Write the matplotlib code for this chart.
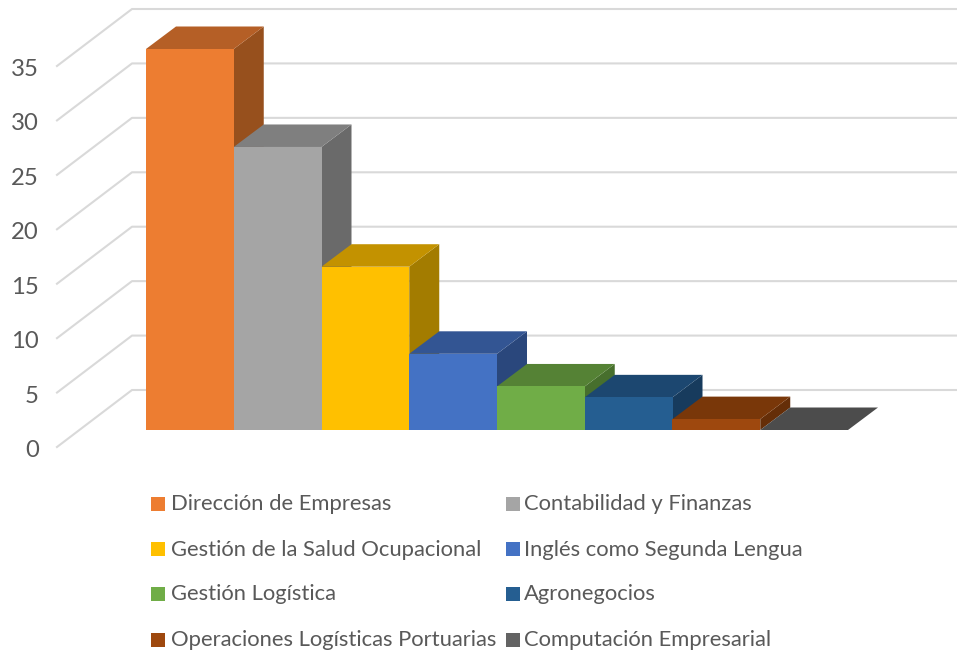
# -*- coding: utf-8 -*-
import matplotlib
matplotlib.use("Agg")

import matplotlib.pyplot as plt
from matplotlib.patches import Polygon, Rectangle
from matplotlib.transforms import ScaledTranslation

plt.rcParams["font.family"] = ["Lato", "DejaVu Sans"]

# datos
carreras = ["Dirección de Empresas", "Contabilidad y Finanzas",
            "Gestión de la Salud Ocupacional", "Inglés como Segunda Lengua",
            "Gestión Logística", "Agronegocios",
            "Operaciones Logísticas Portuarias", "Computación Empresarial"]
valores = [35, 26, 15, 7, 4, 3, 1, 0]
ticks_y = [0, 5, 10, 15, 20, 25, 30, 35]
col_frente = ["#ED7D31", "#A5A5A5", "#FFC000", "#4472C4",
              "#70AD47", "#255E91", "#9E480E", "#636363"]
col_arriba = ["#B55F26", "#7F7F7F", "#C39200", "#335593",
              "#558235", "#1C4770", "#793709", "#4C4C4C"]
col_lado = ["#97501D", "#6A6A6A", "#A37C00", "#2A477C",
            "#476F2D", "#173B5D", "#652E08", "#404040"]

W, H = 957, 651
px_y = 381 / 35      # pixeles por unidad
px_x = 87.75         # ancho de barra

fig = plt.figure(figsize=(W / 100, H / 100), dpi=100)
ax = fig.add_axes([57 / W, 1 - 447 / H, (W - 57) / W, 447 / H])
ax.set_xlim(-(146 - 57) / px_x, (W - 146) / px_x)
ax.set_ylim(0, 447 / px_y)
ax.patch.set_visible(False)
for s in ax.spines.values():
    s.set_visible(False)
ax.set_xticks([])
ax.set_yticks(ticks_y)
ax.tick_params(axis="y", length=0, pad=21, labelsize=17.2, labelcolor="#595959")
desplaza = ScaledTranslation(11 / 100, -1.5 / 100, fig.dpi_scale_trans)
for lab in ax.get_yticklabels():
    lab.set_transform(lab.get_transform() + desplaza)

# paredes: rejilla en perspectiva
x0 = ax.get_xlim()[0]
fondo_x = 75 / px_x
fondo_y = 57 / px_y
for t in ticks_y:
    ax.plot([x0, x0 + fondo_x, ax.get_xlim()[1]],
            [t, t + fondo_y, t + fondo_y],
            color="#D9D9D9", lw=1.5, zorder=1, clip_on=False)

# barras 3D
base = 17 / px_y
dx = 30 / px_x
dy = 22.5 / px_y
for i, v in enumerate(valores):
    top = base + v
    ax.add_patch(Polygon([(i + 1, base), (i + 1 + dx, base + dy),
                          (i + 1 + dx, top + dy), (i + 1, top)],
                         fc=col_lado[i], ec="none", zorder=2 + i))
    ax.add_patch(Polygon([(i, top), (i + dx, top + dy),
                          (i + 1 + dx, top + dy), (i + 1, top)],
                         fc=col_arriba[i], ec="none", zorder=2 + i))
    ax.add_patch(Rectangle((i, base), 1, v, fc=col_frente[i], ec="none", zorder=2 + i))

# leyenda
filas = [503, 548, 593, 639]
for i, nombre in enumerate(carreras):
    fila = filas[i // 2]
    xc = 151 if i % 2 == 0 else 506
    fig.patches.append(Rectangle((xc / W, 1 - (fila + 7.5) / H), 14 / W, 14 / H,
                                 transform=fig.transFigure, fc=col_frente[i], ec="none"))
    fig.text((xc + 20 - (0 if i % 2 == 0 else 2)) / W, 1 - (fila + 1.5) / H, nombre,
             fontsize=15.85, color="#595959", va="center", ha="left")

fig.savefig("out.png", dpi=100)
